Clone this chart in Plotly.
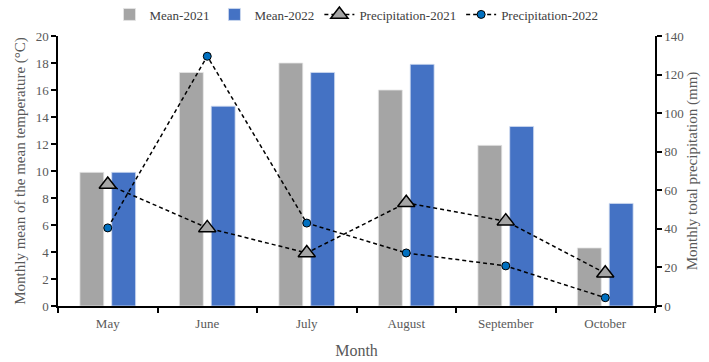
import plotly.graph_objects as go

months = ["May", "June", "July", "August", "September", "October"]
mean_2021 = [9.9, 17.3, 18.0, 16.0, 11.9, 4.3]
mean_2022 = [9.9, 14.8, 17.3, 17.9, 13.3, 7.6]
precip_2021 = [63.0, 40.5, 27.5, 53.5, 44.0, 17.0]
precip_2022 = [40.5, 129.5, 43.0, 27.5, 20.8, 4.3]

temp_ticks = list(range(0, 21, 2))
precip_ticks = list(range(0, 141, 20))

FONT = "Liberation Serif"
TICK_COLOR = "#595959"

fig = go.Figure()

fig.add_trace(go.Bar(
    x=months, y=mean_2021, name="Mean-2021",
    marker=dict(color="#A5A5A5", line=dict(color="#E6E6E6", width=0.8)),
    yaxis="y",
))
fig.add_trace(go.Bar(
    x=months, y=mean_2022, name="Mean-2022",
    marker=dict(color="#4472C4", line=dict(color="#D0DCF0", width=0.8)),
    yaxis="y",
))
fig.add_trace(go.Scatter(
    x=months, y=precip_2021, name="Precipitation-2021",
    mode="lines+markers",
    line=dict(color="black", width=1.5, dash="4px,3px"),
    marker=dict(symbol="triangle-up", size=15, color="#A5A5A5",
                line=dict(color="black", width=1.5)),
    yaxis="y2",
))
fig.add_trace(go.Scatter(
    x=months, y=precip_2022, name="Precipitation-2022",
    mode="lines+markers",
    line=dict(color="black", width=1.5, dash="4px,3px"),
    marker=dict(symbol="circle", size=8, color="#0070C0",
                line=dict(color="black", width=1)),
    yaxis="y2",
))

fig.update_layout(
    width=709, height=362,
    margin=dict(l=58, r=54, t=36, b=56, autoexpand=False),
    paper_bgcolor="white", plot_bgcolor="white",
    barmode="group", bargap=0.36, bargroupgap=0.25,
    font=dict(family=FONT, size=13, color=TICK_COLOR),
    legend=dict(
        orientation="h", x=0.5, xanchor="center",
        yref="container", y=0.96, yanchor="middle",
        font=dict(family=FONT, size=13, color="#404040"),
        itemwidth=30, tracegroupgap=0, bgcolor="rgba(0,0,0,0)",
    ),
    xaxis=dict(
        type="category", categoryorder="array", categoryarray=months,
        showline=True, linecolor="black", linewidth=1.5,
        ticks="outside", tickson="boundaries", ticklen=5, tickcolor="black", tickwidth=1.5,
        ticklabelstandoff=5,
        tickfont=dict(family=FONT, size=13, color=TICK_COLOR),
        title=dict(text="Month", font=dict(family=FONT, size=16, color=TICK_COLOR), standoff=14),
        showgrid=False, zeroline=False, automargin=False,
    ),
    yaxis=dict(
        range=[0, 20], tickvals=temp_ticks,
        showline=True, linecolor="black", linewidth=1.5,
        ticks="outside", ticklen=5, tickcolor="black", tickwidth=1.5,
        tickfont=dict(family=FONT, size=13, color=TICK_COLOR),
        title=dict(text="Monthly mean of the mean temperature (°C)",
                   font=dict(family=FONT, size=15, color=TICK_COLOR), standoff=6),
        showgrid=False, zeroline=False, automargin=False,
    ),
    yaxis2=dict(
        range=[0, 140], tickvals=precip_ticks, overlaying="y", side="right",
        showline=True, linecolor="black", linewidth=1.5,
        ticks="outside", ticklen=5, tickcolor="black", tickwidth=1.5,
        tickfont=dict(family=FONT, size=13, color=TICK_COLOR),
        title=dict(text="Monthly total precipitation (mm)",
                   font=dict(family=FONT, size=15, color=TICK_COLOR), standoff=1),
        showgrid=False, zeroline=False, automargin=False,
    ),
)

fig.write_html("out.html")
